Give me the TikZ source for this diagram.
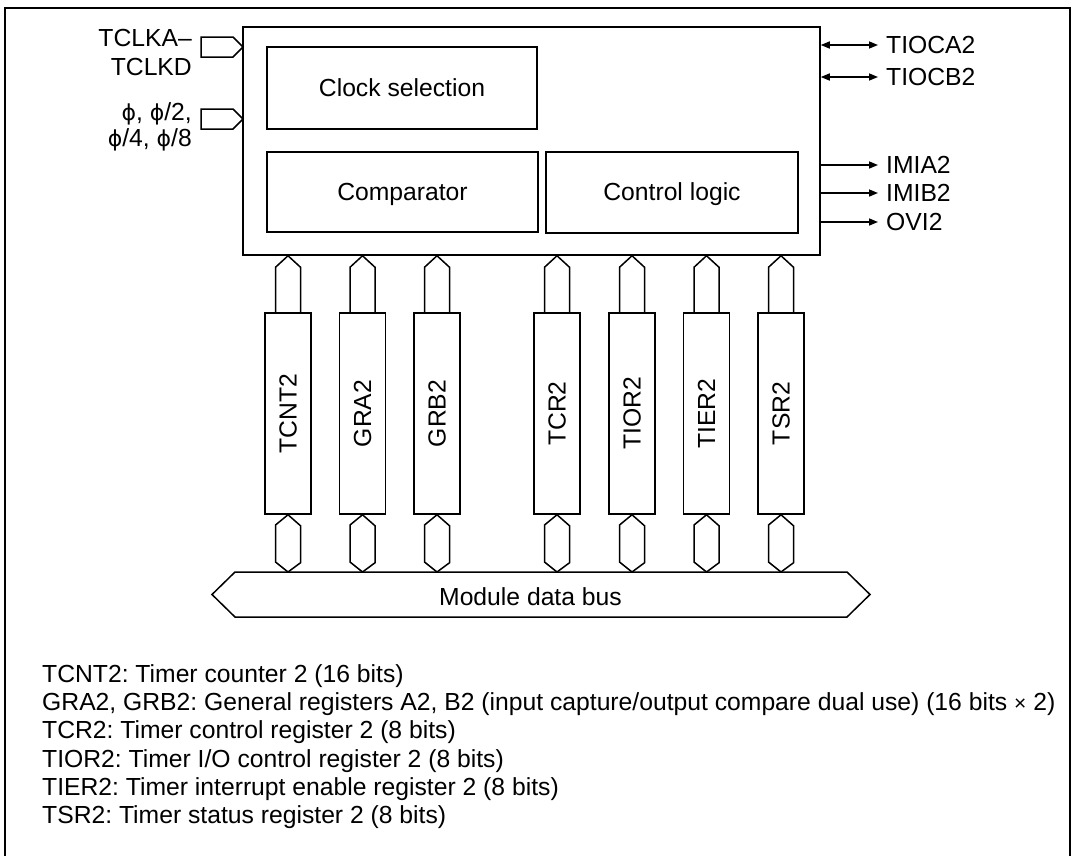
\documentclass[tikz,border=0pt]{standalone}
\usepackage{fontspec}
\setmainfont{Liberation Sans}
\newfontfamily\phifont{DejaVu Sans}
\newcommand{\myphi}{{\phifont\fontsize{22}{24}\selectfont ϕ}}
\frenchspacing
\usetikzlibrary{arrows.meta,calc}
\begin{document}
\begin{tikzpicture}[x=1pt,y=-1pt,
  every node/.style={font=\fontsize{24.7}{28.3}\selectfont, inner sep=0pt},
  box/.style={draw, line width=1.5pt, minimum width=#1},
  reg/.style={draw, line width=1.5pt, minimum width=46pt, minimum height=201pt},
  wire/.style={line width=1.5pt, line join=miter},
  sig/.style={line width=1.5pt, -{Triangle[length=9pt,width=7pt]}},
  bisig/.style={line width=1.5pt, {Triangle[length=9pt,width=7pt]}-{Triangle[length=9pt,width=7pt]}},
  lbl/.style={anchor=base west},
  lblr/.style={anchor=base east}]
\useasboundingbox (0,0) rectangle (1073,855);
\begin{scope}
\clip (0,0) rectangle (1073,855);
\draw[line width=2pt] (5,8) rectangle (1070,870);
\end{scope}

% main block
\node[box=577pt, minimum height=228pt] (main) at (531.5,141) {};
\node[box=270pt, minimum height=82pt] (clk) at (402,88) {};
\node[anchor=base] at (402,96.5) {Clock selection};
\node[box=271pt, minimum height=80pt] (cmp) at (402.5,192) {};
\node[anchor=base] at (402.5,200.5) {Comparator};
\node[box=252pt, minimum height=81pt] (ctl) at (672,192.5) {};
\node[anchor=base] at (672,200.5) {Control logic};

% inputs
\coordinate (inA) at (243,47);
\coordinate (inB) at (243,119);
\draw[wire] (inA) -- ++(-10,-10) -- ++(-32,0) -- ++(0,20) -- ++(32,0) -- cycle;
\draw[wire] (inB) -- ++(-10,-10) -- ++(-32,0) -- ++(0,20) -- ++(32,0) -- cycle;
\node[lblr] (tA) at (192,46.7) {TCLKA–};
\node[lblr] (tD) at (192,75) {TCLKD};
\node[lblr] (p1) at (192,120) {\myphi, \myphi/2,};
\node[lblr] (p2) at (192,146) {\myphi/4, \myphi/8};

% outputs
\coordinate (oA) at (878,45);
\coordinate (oB) at (878,77);
\coordinate (oC) at (878,165);
\coordinate (oD) at (878,193);
\coordinate (oE) at (878,222);
\draw[bisig] (main.east |- oA) -- (oA);
\draw[bisig] (main.east |- oB) -- (oB);
\draw[sig] (main.east |- oC) -- (oC);
\draw[sig] (main.east |- oD) -- (oD);
\draw[sig] (main.east |- oE) -- (oE);
\node[lbl] at (886,53.5) {TIOCA2};
\node[lbl] at (886,85.5) {TIOCB2};
\node[lbl] at (886,173.5) {IMIA2};
\node[lbl] at (886,201.5) {IMIB2};
\node[lbl] at (886,230.5) {OVI2};

% registers
\foreach \n/\x in {TCNT2/288, GRA2/362.5, GRB2/437, TCR2/557, TIOR2/632, TIER2/706.5, TSR2/781}{
  \node[reg] (\n) at (\x,413.5) {};
  \node[rotate=90] at (\n.center) {\n};
  \draw[wire] ($(\n.north)+(-12.5,0)$) -- ++(0,-45) -- (\n.north |- main.south) -- ($(\n.north)+(12.5,-45)$) -- ($(\n.north)+(12.5,0)$);
  \coordinate (b\n) at (\n.south |- 0,572);
  \draw[wire] (\n.south) -- ++(12.5,11) -- ++(0,37) -- (b\n) -- ++(-12.5,-10) -- ++(0,-37) -- cycle;
}

% bus
\coordinate (busL) at (212,594.5);
\coordinate (busR) at (870,594.5);
\draw[wire] (busL) -- (235,572) -- (847,572) -- (busR) -- (847,617) -- (235,617) -- cycle;
\node[anchor=base] (bus) at (530.5,605) {Module data bus};

% legend
\node[lbl] at (42,682) {TCNT2: Timer counter 2 (16 bits)};
\node[lbl] at (42,710.3) {GRA2, GRB2: General registers A2, B2 (input capture/output compare dual use) (16 bits {\fontsize{21}{22}\selectfont ×} 2)};
\node[lbl] at (42,738.6) {TCR2: Timer control register 2 (8 bits)};
\node[lbl] at (42,767) {TIOR2: Timer I/O control register 2 (8 bits)};
\node[lbl] at (42,795.3) {TIER2: Timer interrupt enable register 2 (8 bits)};
\node[lbl] at (42,823.6) {TSR2: Timer status register 2 (8 bits)};
\end{tikzpicture}
\end{document}
